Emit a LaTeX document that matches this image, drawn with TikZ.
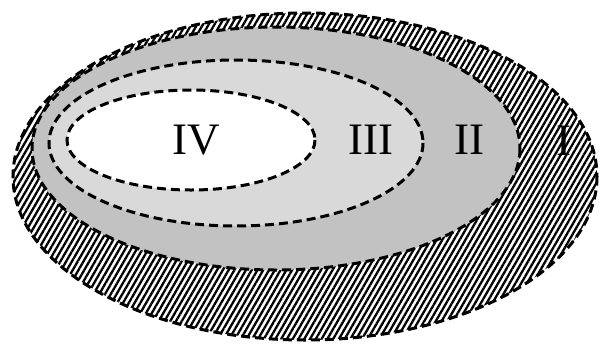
\documentclass[tikz,border=0pt]{standalone}
\usepackage{fontspec}
\setmainfont{Liberation Serif}
\usetikzlibrary{patterns.meta}
\definecolor{zonetwo}{gray}{0.76}
\definecolor{zonethree}{gray}{0.85}

\begin{document}
\begin{tikzpicture}[x=1pt,y=-1pt,
      bd/.style={draw=black,line width=3pt,dash pattern=on 9pt off 5pt},
      lbl/.style={font=\fontsize{45}{54}\selectfont,inner sep=0pt}]
      \useasboundingbox (0,0) rectangle (600,346);
      % filled zones, outer first
      \fill[white] (305,176.5) ellipse [x radius=292,y radius=163.5];
      \fill[pattern={Lines[angle=60,distance=5pt,line width=2.3pt]}] (305,176.5) ellipse [x radius=292,y radius=163.5];
      \fill[zonetwo] (276,148.5) ellipse [x radius=244,y radius=121.5];
      \fill[zonethree] (236,143) ellipse [x radius=187,y radius=83];
      \fill[white] (191,140) ellipse [x radius=124,y radius=50];
      % dashed borders
      \draw[bd] (305,176.5) ellipse [x radius=292,y radius=163.5];
      \draw[bd] (276,148.5) ellipse [x radius=244,y radius=121.5];
      \draw[bd] (236,143) ellipse [x radius=187,y radius=83];
      \draw[bd] (191,140) ellipse [x radius=124,y radius=50];
      % zone labels
      \node[lbl] (z4) at (196,140) {IV};
      \node[lbl] (z3) at (371,140) {III};
      \node[lbl] (z2) at (469,140) {II};
      \node[lbl] (z1) at (564,141) {I};
    \end{tikzpicture}
\end{document}
